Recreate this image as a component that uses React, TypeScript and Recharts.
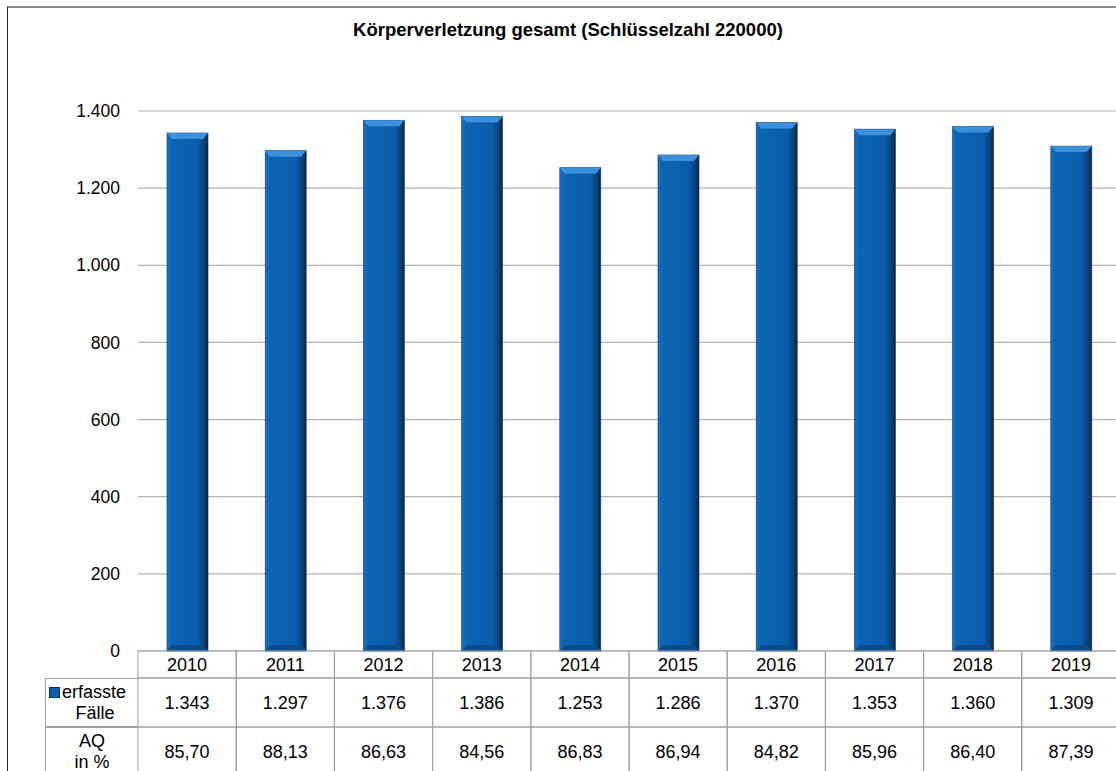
import React from 'react';
import { BarChart, Bar, XAxis, YAxis, CartesianGrid } from 'recharts';

const years = ['2010', '2011', '2012', '2013', '2014', '2015', '2016', '2017', '2018', '2019'];
const cases = [1343, 1297, 1376, 1386, 1253, 1286, 1370, 1353, 1360, 1309];
const aq = ['85,70', '88,13', '86,63', '84,56', '86,83', '86,94', '84,82', '85,96', '86,40', '87,39'];
const yTicks = [0, 200, 400, 600, 800, 1000, 1200, 1400];

const data = years.map((year, i) => ({ year, cases: cases[i], aq: aq[i] }));

const CHART_W = 1140;
const MARGIN = { top: 111, right: 20, left: 0, bottom: 0 };
const Y_W = 138;
const CELL_W = (CHART_W - Y_W - MARGIN.right) / years.length;
const FONT = '"Liberation Sans", Arial, sans-serif';
const LINE = '#a0a0a0';

const fmt = (v: number) => v.toLocaleString('de-DE');

// one table cell per category, drawn as an axis tick
const cellTick = (h: number, getText: (i: number) => string, dy: number) => (props: any) => {
    const { x, y, index } = props;
    return (
        <g>
            <rect x={x - CELL_W / 2} y={y} width={CELL_W} height={h} fill="none" stroke={LINE} strokeWidth={1} />
            <text x={x} y={y + dy} textAnchor="middle" fontSize={18} fontFamily={FONT} fill="#000">
                {getText(index)}
            </text>
        </g>
    );
};

const BevelBar = (props: any) => {
    const { x, y, width: w, height: h } = props;
    if (!h || h <= 0) return null;
    const b = 6;
    return (
        <g>
            <rect x={x} y={y} width={w} height={h} fill="url(#barGrad)" stroke="#0c3660" strokeWidth={0.6} />
            <polygon points={`${x},${y} ${x + w},${y} ${x + w - 5},${y + b} ${x + 5},${y + b}`} fill="#3b8fdc" />
            <polygon points={`${x + 5},${y + h - b} ${x + w - 5},${y + h - b} ${x + w},${y + h} ${x},${y + h}`} fill="#0a4d8c" />
        </g>
    );
};

const App: React.FC = () => {
    return (
        <div style={{ position: 'absolute', left: 0, top: 0, width: 1116, height: 771, overflow: 'hidden', background: '#fff', fontFamily: FONT }}>
            <div style={{ position: 'absolute', left: 7, top: 6, width: 1200, height: 900, borderTop: '2px solid #888', borderLeft: '1px solid #222' }} />
            <div style={{ position: 'absolute', left: 0, width: 1116, top: 19, textAlign: 'center', fontWeight: 'bold', fontSize: 18.5, paddingLeft: 10 }}>
                Körperverletzung gesamt (Schlüsselzahl 220000)
            </div>

            <div style={{ position: 'absolute', left: 0, top: 0 }}>
                <BarChart width={CHART_W} height={776} data={data} margin={MARGIN} barSize={41}>
                    <defs>
                        <linearGradient id="barGrad" x1="0" y1="0" x2="1" y2="0">
                            <stop offset="0%" stopColor="#1d6fbe" />
                            <stop offset="12%" stopColor="#0b64b5" />
                            <stop offset="75%" stopColor="#0a5daa" />
                            <stop offset="92%" stopColor="#0a3f74" />
                            <stop offset="100%" stopColor="#0b2440" />
                        </linearGradient>
                    </defs>
                    <CartesianGrid vertical={false} stroke="#b5b5b5" strokeWidth={1.2} />
                    <YAxis
                        width={Y_W}
                        domain={[0, 1400]}
                        ticks={yTicks}
                        tickFormatter={fmt}
                        axisLine={false}
                        tickLine={false}
                        tickSize={0}
                        tickMargin={18}
                        tick={{ fontSize: 17.5, fill: '#000', fontFamily: FONT }}
                    />
                    <XAxis
                        xAxisId="r1year"
                        dataKey="year"
                        height={27}
                        axisLine={false}
                        tickLine={false}
                        tickSize={0}
                        tickMargin={0}
                        interval={0}
                        tick={cellTick(27, (i) => years[i], 20)}
                    />
                    <XAxis
                        xAxisId="r2cases"
                        dataKey="year"
                        height={49}
                        axisLine={false}
                        tickLine={false}
                        tickSize={0}
                        tickMargin={0}
                        interval={0}
                        tick={cellTick(49, (i) => fmt(cases[i]), 31)}
                    />
                    <XAxis
                        xAxisId="r3aq"
                        dataKey="year"
                        height={49}
                        axisLine={false}
                        tickLine={false}
                        tickSize={0}
                        tickMargin={0}
                        interval={0}
                        tick={cellTick(49, (i) => aq[i], 31)}
                    />
                    <Bar xAxisId="r1year" dataKey="cases" shape={<BevelBar />} isAnimationActive={false} />
                </BarChart>
            </div>

            {/* row headers */}
            <div style={{ position: 'absolute', left: 45, top: 678, width: 93, height: 49, boxSizing: 'border-box', border: `1px solid ${LINE}`, borderRight: 'none', fontSize: 18, lineHeight: '21px', paddingTop: 3 }}>
                <div style={{ display: 'flex', alignItems: 'center', paddingLeft: 3 }}>
                    <span style={{ display: 'inline-block', width: 9, height: 9, background: '#0b5fae', border: '1px solid #0b3560', marginRight: 2 }} />
                    erfasste
                </div>
                <div style={{ textAlign: 'center', paddingLeft: 6 }}>Fälle</div>
            </div>
            <div style={{ position: 'absolute', left: 45, top: 727, width: 93, height: 49, boxSizing: 'border-box', border: `1px solid ${LINE}`, borderRight: 'none', fontSize: 18, lineHeight: '21px', paddingTop: 3, textAlign: 'center' }}>
                <div>AQ</div>
                <div>in %</div>
            </div>
        </div>
    );
};

export default App;
